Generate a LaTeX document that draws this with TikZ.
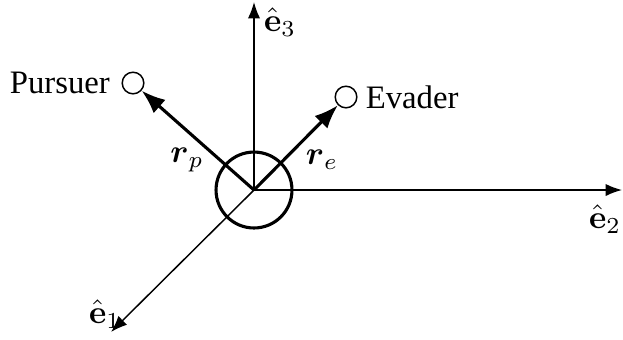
\documentclass[tikz,border=0pt]{standalone}
\usepackage{amsmath, amssymb}
\usepackage[no-math]{fontspec}
\setmainfont{Liberation Serif}
\usepackage{tikz}
\usetikzlibrary{positioning, arrows.meta}

\begin{document}
\begin{tikzpicture}[
			x=0.3055pt, y=-0.3055pt,
			>=Latex,
			axis/.style={->, line width=0.45pt},
			posvec/.style={->, line width=0.95pt},
			body/.style={circle, draw, line width=0.45pt, minimum size=6.6pt, inner sep=0pt}
			]
			\useasboundingbox (0,0) rectangle (623,339);
			
			% 1. FRAME AXES
			\coordinate (origin) at (254,190);
			\coordinate (e1tip) at (111,332);
			\coordinate (e2tip) at (622,190);
			\coordinate (e3tip) at (254,2);
			\draw[axis] (origin) -- (e1tip);
			\draw[axis] (origin) -- (e2tip);
			\draw[axis] (origin) -- (e3tip);
			\node (e1) at (105,314) {$\hat{\mathbf{e}}_1$};
			\node (e2) at (605,219) {$\hat{\mathbf{e}}_2$};
			\node (e3) at (280,22) {$\hat{\mathbf{e}}_3$};
			
			% 2. CENTRAL BODY
			\node[circle, draw, line width=0.95pt, minimum size=23.2pt, inner sep=0pt] (center) at (origin) {};
			
			% 3. PURSUER & EVADER
			\node[body] (pursuer) at (133,83) {};
			\node[left=0pt of pursuer] (ptext) {Pursuer};
			\node[body] (evader) at (346,97) {};
			\node[right=-1pt of evader] (etext) {Evader};
			\draw[posvec] (origin) -- (pursuer);
			\draw[posvec] (origin) -- (evader);
			\node (rp) at (187,160) {$\boldsymbol{r}_p$};
			\node (re) at (322,160) {$\boldsymbol{r}_e$};
		\end{tikzpicture}
\end{document}
